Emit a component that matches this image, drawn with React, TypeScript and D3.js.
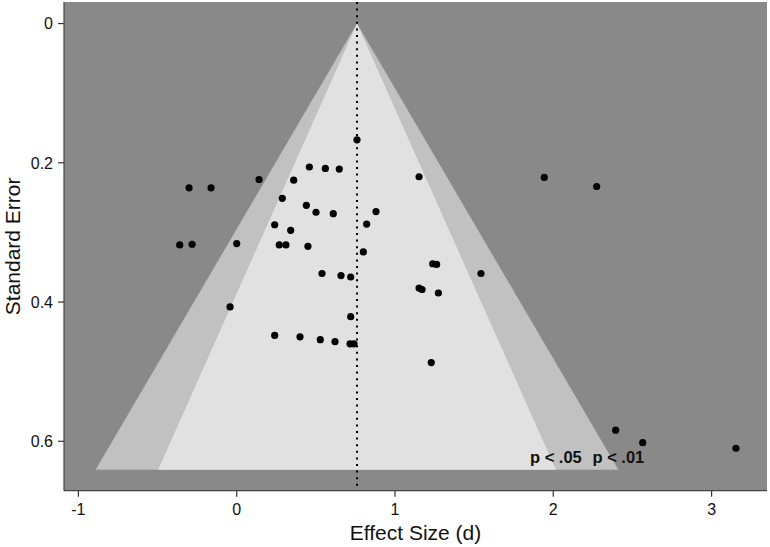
import * as d3 from "d3";

// study effect sizes (d) and their standard errors
const effectSize = [
  0.76, 0.459, 0.56, 0.648, 0.141, 0.36, 1.152, 0.288, 0.44, 0.501, 0.61, 0.88,
  0.24, 0.341, 0.821, 0.269, 0.311, 0.45, 0.8, 1.238, 1.263, 1.543, 0.539, 0.659,
  0.72, 1.152, 1.171, 1.274, 0.72, 0.24, 0.4, 0.528, 0.621, 0.716, 0.741, 1.229,
  -0.301, -0.162, -0.36, -0.282, 0.0, -0.042, 1.943, 2.274, 2.394, 2.565, 3.154,
];
const standardError = [
  0.167, 0.206, 0.208, 0.209, 0.224, 0.225, 0.22, 0.251, 0.261, 0.271, 0.273, 0.27,
  0.289, 0.297, 0.288, 0.318, 0.318, 0.32, 0.328, 0.345, 0.346, 0.359, 0.359, 0.362,
  0.364, 0.38, 0.382, 0.387, 0.421, 0.448, 0.45, 0.454, 0.457, 0.46, 0.46, 0.487,
  0.236, 0.236, 0.318, 0.317, 0.316, 0.407, 0.221, 0.234, 0.584, 0.602, 0.61,
];

const meanEffect = 0.76;
const maxSE = 0.641;
const contours = [
  { z: 2.576, label: "p < .01", fill: "#c1c1c1" },
  { z: 1.96, label: "p < .05", fill: "#e1e1e1" },
];
const xTicks = [-1, 0, 1, 2, 3];
const yTicks = [0, 0.2, 0.4, 0.6];

const W = 770;
const H = 547;
const panel = { left: 64, right: 767, top: 2, bottom: 490.7 };

export default function App() {
  const x = d3.scaleLinear().domain([-1.091, 3.35]).range([panel.left, panel.right]);
  const y = d3.scaleLinear().domain([-0.031, 0.671]).range([panel.top, panel.bottom]);

  const funnel = (z: number) =>
    d3.line()([
      [x(meanEffect), y(0)],
      [x(meanEffect - z * maxSE), y(maxSE)],
      [x(meanEffect + z * maxSE), y(maxSE)],
    ]) + "Z";

  const font = "Liberation Sans, Arial, Helvetica, sans-serif";

  return (
    <svg
      width={W}
      height={H}
      style={{ position: "absolute", left: 0, top: 0, background: "#fff" }}
      fontFamily={font}
    >
      <rect
        x={panel.left}
        y={panel.top}
        width={panel.right - panel.left}
        height={panel.bottom - panel.top}
        fill="#898989"
      />
      {contours.map((c) => (
        <path key={c.z} d={funnel(c.z)} fill={c.fill} />
      ))}
      <line
        x1={x(meanEffect)}
        x2={x(meanEffect)}
        y1={panel.top}
        y2={panel.bottom}
        stroke="#000"
        strokeWidth={2}
        strokeDasharray="2,4.6"
      />
      {effectSize.map((d, i) => (
        <circle key={i} cx={x(d)} cy={y(standardError[i])} r={3.6} fill="#000" />
      ))}
      {/* contour labels sit at the bottom corners of each funnel */}
      {contours.map((c) => (
        <text
          key={c.label}
          x={x(meanEffect + c.z * maxSE)}
          y={y(maxSE) - 7}
          textAnchor="middle"
          fontSize={16.5}
          fontWeight="bold"
          fill="#111"
        >
          {c.label}
        </text>
      ))}

      {/* axes */}
      <line x1={panel.left} x2={panel.left} y1={panel.top} y2={panel.bottom} stroke="#444" strokeWidth={1.2} />
      <line x1={panel.left} x2={panel.right} y1={panel.bottom} y2={panel.bottom} stroke="#444" strokeWidth={1.2} />
      {yTicks.map((t) => (
        <g key={t} transform={`translate(${panel.left},${y(t)})`}>
          <line x1={-6} x2={0} stroke="#333" strokeWidth={1.2} />
          <text x={-11} dy="0.36em" textAnchor="end" fontSize={16} fill="#111">
            {t}
          </text>
        </g>
      ))}
      {xTicks.map((t) => (
        <g key={t} transform={`translate(${x(t)},${panel.bottom})`}>
          <line y1={0} y2={6} stroke="#333" strokeWidth={1.2} />
          <text y={24.5} textAnchor="middle" fontSize={16} fill="#111">
            {t}
          </text>
        </g>
      ))}
      <text
        x={(panel.left + panel.right) / 2}
        y={540}
        textAnchor="middle"
        fontSize={21}
        fill="#111"
      >
        Effect Size (d)
      </text>
      <text
        transform={`translate(20,${(panel.top + panel.bottom) / 2}) rotate(-90)`}
        textAnchor="middle"
        fontSize={21}
        fill="#111"
      >
        Standard Error
      </text>
    </svg>
  );
}
